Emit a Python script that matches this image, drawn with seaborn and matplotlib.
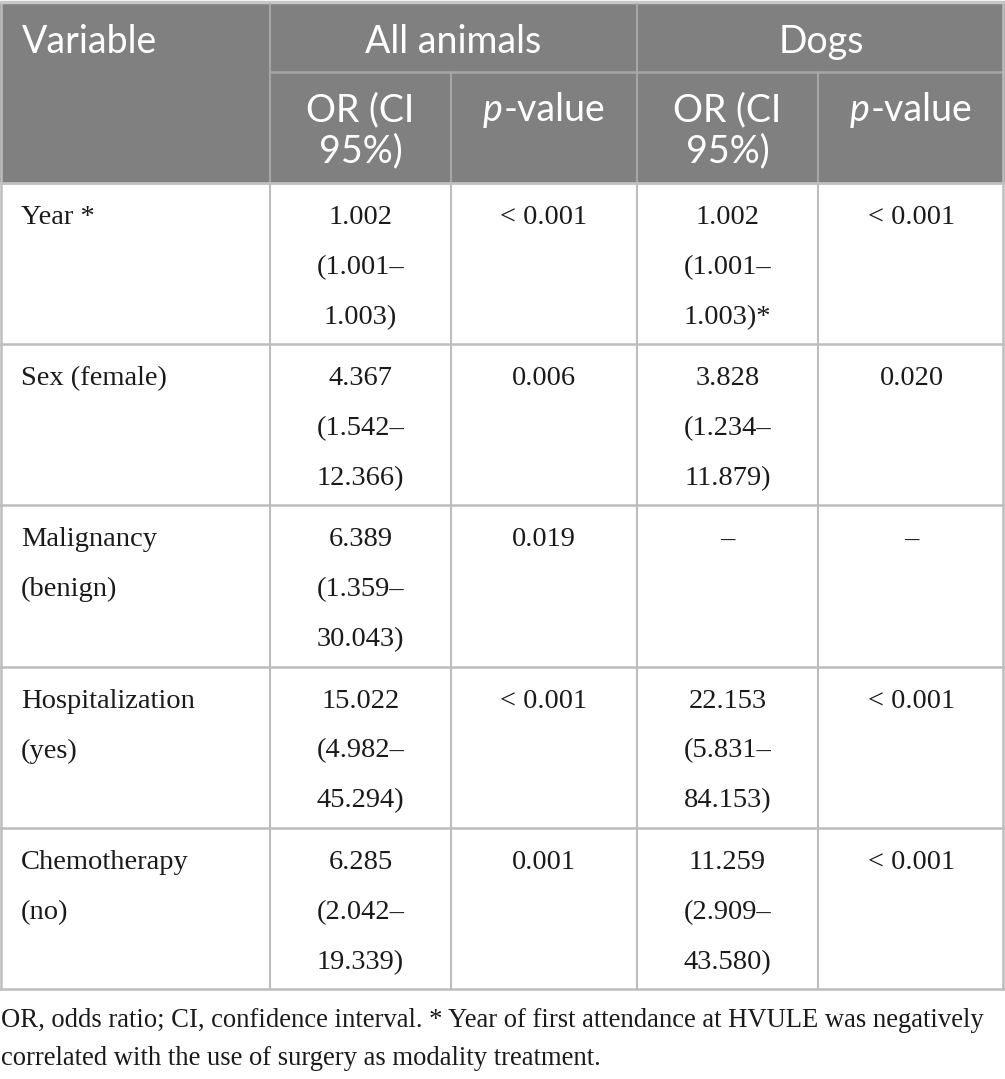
import matplotlib
matplotlib.use("Agg")
import matplotlib.pyplot as plt
import seaborn as sns
import numpy as np

# ---------------- data ----------------
variables = ["Year *", "Sex (female)", "Malignancy\n(benign)",
             "Hospitalization\n(yes)", "Chemotherapy\n(no)"]
all_or = [1.002, 4.367, 6.389, 15.022, 6.285]
all_lo = [1.001, 1.542, 1.359, 4.982, 2.042]
all_hi = [1.003, 12.366, 30.043, 45.294, 19.339]
all_p = ["< 0.001", "0.006", "0.019", "< 0.001", "0.001"]
dog_or = [1.002, 3.828, np.nan, 22.153, 11.259]
dog_lo = [1.001, 1.234, np.nan, 5.831, 2.909]
dog_hi = [1.003, 11.879, np.nan, 84.153, 43.580]
dog_p = ["< 0.001", "0.020", "–", "< 0.001", "< 0.001"]
dog_mark = ["*", "", "", "", ""]
group_labels = ["All animals", "Dogs"]
footnote = ["OR, odds ratio; CI, confidence interval. * Year of first attendance at HVULE was negatively",
            "correlated with the use of surgery as modality treatment."]

# ---------------- style ----------------
sns.set_theme(style="white")
plt.rcParams["font.family"] = ["Liberation Serif", "DejaVu Serif"]
SANS = ["Lato", "DejaVu Sans"]
SERIF = ["Liberation Serif", "DejaVu Serif"]

W, H = 1005, 1079
fig = plt.figure(figsize=(W / 100, H / 100), dpi=100)
ax = fig.add_axes([0, 0, 1, 1])
ax.set_xlim(0, W)
ax.set_ylim(H, 0)
ax.axis("off")

col_x = [0, 270, 451, 637, 818, 1005]
head_top, head_mid, head_bot = 4, 72, 183
row_h = 161.2
row_tops = [head_bot + i * row_h for i in range(len(variables) + 1)]

hdr_bg = "#808080"
hdr_line = "#a6a6a6"
grid = "#bdbdbd"
txt = "#1a1a1a"

# header background
ax.add_patch(plt.Rectangle((0, head_top), W, head_bot - head_top, color=hdr_bg, lw=0, zorder=0))
ax.plot([0, W], [2, 2], color="#c8c8c8", lw=2.5, zorder=1)
# header lines
ax.plot([col_x[1], W], [head_mid, head_mid], color=hdr_line, lw=1.8, zorder=2)
for cx in [col_x[1], col_x[3]]:
    ax.plot([cx, cx], [head_top, head_bot], color=hdr_line, lw=1.5, zorder=2)
for cx in [col_x[2], col_x[4]]:
    ax.plot([cx, cx], [head_mid, head_bot], color=hdr_line, lw=1.5, zorder=2)
ax.plot([0, W], [head_bot, head_bot], color="#c0c0c0", lw=2.0, zorder=3)

# body lines
for yt in row_tops[1:]:
    ax.plot([0, W], [yt, yt], color=grid, lw=1.8, zorder=2)
for cx in col_x[1:-1]:
    ax.plot([cx, cx], [head_bot, row_tops[-1]], color=grid, lw=1.5, zorder=2)
ax.plot([1, 1], [head_top, row_tops[-1]], color=grid, lw=1.8, zorder=2)
ax.plot([W - 2, W - 2], [head_top, row_tops[-1]], color=grid, lw=1.8, zorder=2)

HFS = 27
BFS = 20.5
# header text
ax.text(22, 53, "Variable", fontsize=HFS, family=SANS, color="white", va="baseline", ha="left")
ax.text((col_x[1] + col_x[3]) / 2, 53, group_labels[0], fontsize=HFS, family=SANS,
        color="white", va="baseline", ha="center")
ax.text((col_x[3] + col_x[5]) / 2, 53, group_labels[1], fontsize=HFS, family=SANS,
        color="white", va="baseline", ha="center")
for c in [1, 3]:
    cxm = (col_x[c] + col_x[c + 1]) / 2
    ax.text(cxm, 121, "OR (CI", fontsize=HFS, family=SANS, color="white", va="baseline", ha="center")
    ax.text(cxm, 162, "95%)", fontsize=HFS, family=SANS, color="white", va="baseline", ha="center")

fig.canvas.draw()
renderer = fig.canvas.get_renderer()
for c in [2, 4]:
    cxm = (col_x[c] + col_x[c + 1]) / 2
    t1 = ax.text(0, 121, "p", fontsize=HFS, family=SANS, style="italic", color="white", va="baseline", ha="left")
    t2 = ax.text(0, 121, "-value", fontsize=HFS, family=SANS, color="white", va="baseline", ha="left")
    w1 = t1.get_window_extent(renderer).width
    w2 = t2.get_window_extent(renderer).width
    total = w1 + w2 + 1
    x0 = cxm - total / 2
    t1.set_x(x0)
    t2.set_x(x0 + w1 + 1)

def fmt_or(v, lo, hi, mark=""):
    if np.isnan(v):
        return ["–"]
    return [f"{v:.3f}", f"({lo:.3f}–", f"{hi:.3f}){mark}"]

base_off, lh = 41, 50
for i, var in enumerate(variables):
    yt = row_tops[i]
    for k, line in enumerate(var.split("\n")):
        ax.text(21, yt + base_off + k * lh, line, fontsize=BFS, family=SERIF, color=txt,
                va="baseline", ha="left")
    cells = [fmt_or(all_or[i], all_lo[i], all_hi[i]), [all_p[i]],
             fmt_or(dog_or[i], dog_lo[i], dog_hi[i], dog_mark[i]), [dog_p[i]]]
    for c, lines in enumerate(cells):
        cxm = (col_x[c + 1] + col_x[c + 2]) / 2
        for k, line in enumerate(lines):
            ax.text(cxm, yt + base_off + k * lh, line, fontsize=BFS, family=SERIF, color=txt,
                    va="baseline", ha="center")

for k, line in enumerate(footnote):
    ax.text(1, 1027 + k * 38, line, fontsize=19.2, family=SERIF, color=txt,
            va="baseline", ha="left")

fig.savefig("out.png", dpi=100, facecolor="white")
